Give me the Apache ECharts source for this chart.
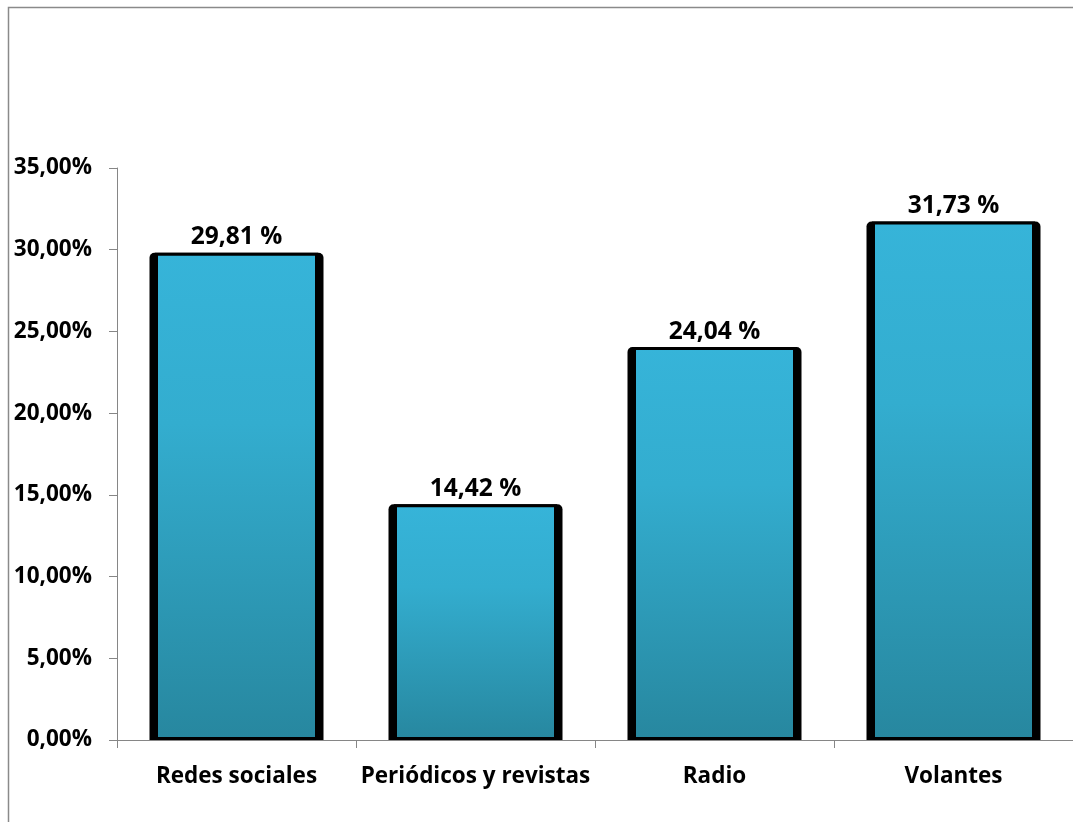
<!DOCTYPE html>
<html>
<head>
<meta charset="utf-8">
<script src="https://cdn.jsdelivr.net/npm/echarts@6/dist/echarts.min.js"></script>
<style>
  html, body { margin: 0; padding: 0; background: #fff; }
  #chart { width: 1073px; height: 822px; }
</style>
</head>
<body>
<div id="chart"></div>
<script>
// Medios de difusión: porcentaje de respuestas
const categories = ['Redes sociales', 'Periódicos y revistas', 'Radio', 'Volantes'];
const percentages = [29.81, 14.42, 24.04, 31.73];
const yTicks = { min: 0, max: 35, interval: 5 };

const fmtComma = (v, d) => v.toFixed(d).replace('.', ',');
const FONT = '"Open Sans", Lato, sans-serif';

const chart = echarts.init(document.getElementById('chart'), null, { renderer: 'canvas' });

const xAxisBase = {
  type: 'category',
  data: categories,
  boundaryGap: true,
  axisLine: { show: true, lineStyle: { color: '#868686', width: 1 } },
  axisTick: { show: true, interval: 0, length: 8, lineStyle: { color: '#868686' }, alignWithLabel: false },
  axisLabel: {
    interval: 0, hideOverlap: false,
    color: '#000', fontFamily: FONT, fontWeight: 'bold', fontSize: 22.5, margin: 25
  },
  splitLine: { show: false }
};

chart.setOption({
  animation: false,
  backgroundColor: '#fff',
  graphic: [{
    // outer chart frame (top and left edges)
    type: 'polyline',
    shape: { points: [[8.5, 900], [8.5, 7.5], [1200, 7.5]] },
    style: { fill: 'none', stroke: '#8a8a8a', lineWidth: 1.5 },
    silent: true,
    z: -10
  }],
  grid: { left: 117, right: -4, top: 168, bottom: 82, containLabel: false },
  xAxis: [
    xAxisBase,
    Object.assign({}, xAxisBase, { show: false })
  ],
  yAxis: {
    type: 'value',
    min: yTicks.min,
    max: yTicks.max,
    interval: yTicks.interval,
    axisLine: { show: true, lineStyle: { color: '#868686', width: 1 } },
    axisTick: { show: true, length: 8, lineStyle: { color: '#868686' } },
    splitLine: { show: false },
    axisLabel: {
      color: '#000', fontFamily: FONT, fontWeight: 'bold', fontSize: 22.5, margin: 25,
      formatter: v => fmtComma(v, 2) + '%'
    }
  },
  series: [
    {
      // dark frame behind each bar
      type: 'bar',
      xAxisIndex: 0,
      data: percentages,
      barWidth: 174,
      itemStyle: { color: '#000', borderRadius: [5, 5, 0, 0] },
      z: 2,
      silent: true
    },
    {
      type: 'bar',
      xAxisIndex: 1,
      data: percentages,
      barWidth: 163,
      itemStyle: {
        color: new echarts.graphic.LinearGradient(0, 0, 0, 1, [
          { offset: 0, color: '#36b4d9' },
          { offset: 0.35, color: '#33adcf' },
          { offset: 1, color: '#27879f' }
        ]),
        borderColor: '#000',
        borderWidth: 3
      },
      label: {
        show: true,
        position: 'top',
        distance: 3,
        color: '#000',
        fontFamily: FONT,
        fontWeight: 'bold',
        fontSize: 24.5,
        formatter: p => fmtComma(p.value, 2) + ' %'
      },
      z: 3
    }
  ]
});
</script>
</body>
</html>
